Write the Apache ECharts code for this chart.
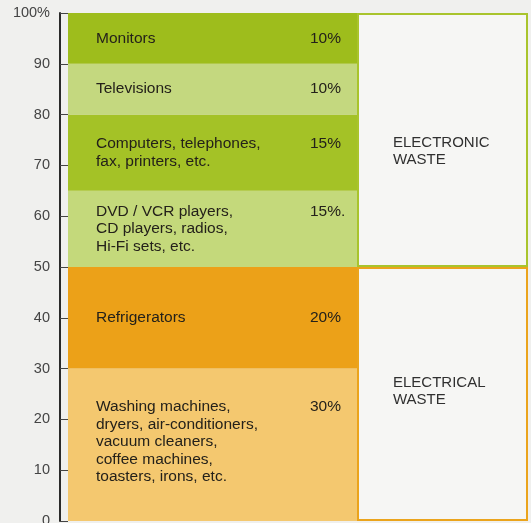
<!DOCTYPE html>
<html>
<head>
<meta charset="utf-8">
<script src="https://cdn.jsdelivr.net/npm/echarts@6/dist/echarts.min.js"></script>
<style>
  html, body { margin: 0; padding: 0; background: #f0f0ee; }
  #chart { width: 531px; height: 523px; }
</style>
</head>
<body>
<div id="chart"></div>
<script>
// Product categories, listed from the bottom of the stack to the top
const categories = [
  'Washing machines,\ndryers, air-conditioners,\nvacuum cleaners,\ncoffee machines,\ntoasters, irons, etc.',
  'Refrigerators',
  'DVD / VCR players,\nCD players, radios,\nHi-Fi sets, etc.',
  'Computers, telephones,\nfax, printers, etc.',
  'Televisions',
  'Monitors'
];
// Share of each category (%)
const shares = [30, 20, 15, 15, 10, 10];
// Text printed after each share value
const shareSuffix = ['%', '%', '%.', '%', '%', '%'];
const segmentColors = ['#f4c86f', '#eca118', '#c4d97b', '#a4c226', '#c4d87f', '#9ebd1c'];

// Waste groups, bottom to top, and the share each one covers
const groups = ['ELECTRICAL\nWASTE', 'ELECTRONIC\nWASTE'];
const groupTotals = [50, 50];
const groupBorders = ['#eba41c', '#a9c42c'];

// Y axis ticks
const yMin = 0, yMax = 100, yStep = 10;

const textColor = '#24211a';
const fontFamily = '"Liberation Sans", Arial, Helvetica, sans-serif';

function segmentLabel(name, share, suffix) {
  const lines = name.split('\n');
  return lines.map((ln, i) => i === 0
    ? '{n|' + ln + '}{p|' + share + suffix + '}'
    : '{n|' + ln + '}').join('\n');
}

const productSeries = categories.map((name, i) => ({
  name: name,
  type: 'bar',
  xAxisIndex: 0,
  yAxisIndex: 0,
  stack: 'products',
  barWidth: '100%',
  data: [shares[i]],
  itemStyle: { color: segmentColors[i] },
  emphasis: { disabled: true },
  label: {
    show: true,
    position: 'insideLeft',
    distance: 28,
    offset: i === 0 ? [0, -3] : [0, 0],
    formatter: () => segmentLabel(name, shares[i], shareSuffix[i]),
    lineHeight: 17.5,
    rich: {
      n: { width: 214, fontSize: 15.5, fontFamily: fontFamily, color: textColor, lineHeight: 17.5 },
      p: { fontSize: 15.5, fontFamily: fontFamily, color: textColor, lineHeight: 17.5 }
    }
  }
}));

const groupSeries = groups.map((g, i) => ({
  name: g,
  type: 'bar',
  xAxisIndex: 1,
  yAxisIndex: 1,
  stack: 'groups',
  barWidth: '100%',
  data: [groupTotals[i]],
  itemStyle: { color: '#f6f6f4', borderColor: groupBorders[i], borderWidth: 2 },
  emphasis: { disabled: true },
  label: {
    show: true,
    position: 'insideLeft',
    distance: 36,
    offset: i === 0 ? [0, -3] : [0, 11],
    formatter: g,
    fontSize: 15,
    lineHeight: 17,
    fontFamily: fontFamily,
    color: '#303030'
  }
}));

const chart = echarts.init(document.getElementById('chart'), null, { renderer: 'canvas' });
chart.setOption({
  backgroundColor: '#f0f0ee',
  animation: false,
  grid: [
    { left: 68, top: 13, width: 289, height: 508, outerBoundsMode: 'none', containLabel: false },
    { left: 357, top: 13, width: 171, height: 508, outerBoundsMode: 'none', containLabel: false }
  ],
  xAxis: [
    { type: 'category', gridIndex: 0, data: ['products'], show: false },
    { type: 'category', gridIndex: 1, data: ['groups'], show: false }
  ],
  yAxis: [
    {
      type: 'value', gridIndex: 0, min: yMin, max: yMax, interval: yStep,
      offset: 8,
      axisLine: { show: true, lineStyle: { color: '#2a2a2a', width: 2 } },
      axisTick: { show: true, inside: true, length: 8, lineStyle: { color: '#444', width: 1 } },
      axisLabel: {
        margin: 10, fontSize: 14.5, color: '#444', fontFamily: fontFamily,
        formatter: v => v === yMax ? v + '%' : String(v)
      },
      splitLine: { show: false }
    },
    { type: 'value', gridIndex: 1, min: yMin, max: yMax, show: false }
  ],
  series: productSeries.concat(groupSeries)
});
</script>
</body>
</html>
